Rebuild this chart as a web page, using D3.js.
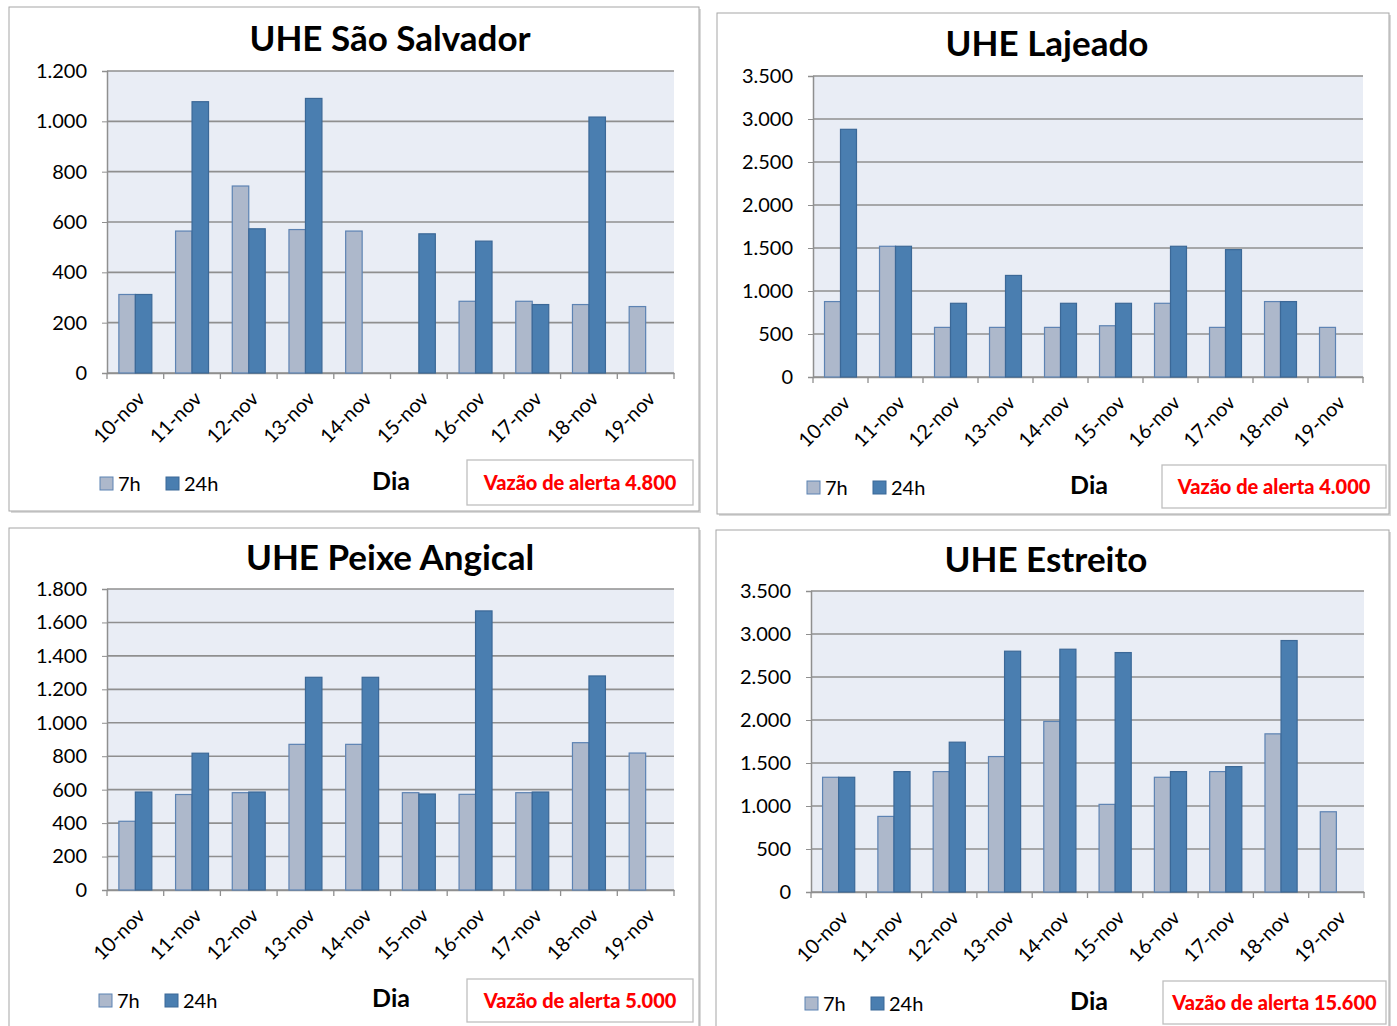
<!DOCTYPE html>
<html lang="pt">
<head>
<meta charset="UTF-8">
<script src="https://d3js.org/d3.v7.min.js"></script>
<style>
  body { margin:0; background:#fff; }
  text { font-family: Lato, "Open Sans", sans-serif; }
</style>
<title>UHE vazões</title>
</head>
<body>
<script>
// categorias e séries
var dias = ["10-nov","11-nov","12-nov","13-nov","14-nov","15-nov","16-nov","17-nov","18-nov","19-nov"];
var series = ["7h","24h"];

var salvador7h  = [312, 564, 743, 570, 564, 0, 285, 285, 272, 264];
var salvador24h = [312, 1078, 573, 1091, 0, 553, 524, 272, 1017, 0];
var salvadorTicks = [0, 200, 400, 600, 800, 1000, 1200];

var lajeado7h  = [877, 1520, 577, 577, 577, 596, 857, 577, 877, 577];
var lajeado24h = [2880, 1520, 857, 1181, 857, 857, 1520, 1481, 877, 0];
var lajeadoTicks = [0, 500, 1000, 1500, 2000, 2500, 3000, 3500];

var peixe7h  = [411, 571, 582, 871, 871, 582, 572, 582, 881, 819];
var peixe24h = [586, 818, 586, 1272, 1272, 574, 1669, 586, 1280, 0];
var peixeTicks = [0, 200, 400, 600, 800, 1000, 1200, 1400, 1600, 1800];

var estreito7h  = [1334, 879, 1400, 1575, 1983, 1019, 1334, 1400, 1839, 933];
var estreito24h = [1334, 1400, 1742, 2800, 2823, 2784, 1400, 1458, 2924, 0];
var estreitoTicks = [0, 500, 1000, 1500, 2000, 2500, 3000, 3500];

var W = 1397, H = 1026;
var svg = d3.select("body").append("svg").attr("width", W).attr("height", H);

var ptBR = d3.formatLocale({decimal: ",", thousands: ".", grouping: [3], currency: ["R$", ""]});
var fmt = ptBR.format(",d");

var colors = {"7h": {fill: "#adb8cb", stroke: "#5d83b3"}, "24h": {fill: "#4a7eb0", stroke: "#3b6897"}};

function drawPanel(p) {
  var g = svg.append("g");
  // moldura
  g.append("rect")
    .attr("x", p.box[0] + 2).attr("y", p.box[1] + 2)
    .attr("width", p.box[2] - p.box[0]).attr("height", p.box[3] - p.box[1])
    .attr("fill", "#d9d9d9");
  g.append("rect")
    .attr("x", p.box[0]).attr("y", p.box[1])
    .attr("width", p.box[2] - p.box[0]).attr("height", p.box[3] - p.box[1])
    .attr("fill", "#fff").attr("stroke", "#a6a6a6").attr("stroke-width", 1);

  var x = d3.scaleBand().domain(dias).range([p.plot[0], p.plot[2]]).paddingInner(0).paddingOuter(0);
  var xs = d3.scaleBand().domain(series).range([0, x.bandwidth()]).paddingInner(0).paddingOuter(0.72);
  var y = d3.scaleLinear().domain([0, d3.max(p.ticks)]).range([p.plot[3], p.plot[1]]);

  g.append("rect")
    .attr("x", p.plot[0]).attr("y", p.plot[1])
    .attr("width", p.plot[2] - p.plot[0]).attr("height", p.plot[3] - p.plot[1])
    .attr("fill", "#e9edf5");

  // grade
  g.append("g").selectAll("line").data(p.ticks).enter().append("line")
    .attr("x1", p.plot[0]).attr("x2", p.plot[2])
    .attr("y1", function(d) { return y(d); }).attr("y2", function(d) { return y(d); })
    .attr("stroke", "#8f8f8f").attr("stroke-width", 1.6);

  var yAxis = g.append("g")
    .attr("transform", "translate(" + p.plot[0] + ",0)")
    .call(d3.axisLeft(y).tickValues(p.ticks).tickFormat(fmt).tickSize(5).tickPadding(15));
  yAxis.select(".domain").attr("stroke", "#8f8f8f").attr("stroke-width", 1.5);
  yAxis.selectAll(".tick line").attr("stroke", "#8f8f8f");
  yAxis.selectAll("text").attr("font-size", 20).attr("fill", "#000")
    .style("font-family", "Lato, sans-serif");

  var xAxis = g.append("g")
    .attr("transform", "translate(0," + p.plot[3] + ")")
    .call(d3.axisBottom(x).tickSizeOuter(0).tickSize(0).tickFormat(""));
  xAxis.select(".domain").attr("stroke", "#8f8f8f").attr("stroke-width", 1.5);
  xAxis.selectAll(".tick").remove();
  // marcas entre categorias
  var bounds = dias.map(function(d) { return x(d); }).concat([p.plot[2]]);
  g.append("g").selectAll("line").data(bounds).enter().append("line")
    .attr("x1", function(d) { return d; }).attr("x2", function(d) { return d; })
    .attr("y1", p.plot[3]).attr("y2", p.plot[3] + 6)
    .attr("stroke", "#8f8f8f").attr("stroke-width", 1.3);

  g.append("g").selectAll("text").data(dias).enter().append("text")
    .attr("transform", function(d) {
      return "translate(" + (x(d) + x.bandwidth() / 2 + 6) + "," + (p.plot[3] + 22) + ") rotate(-45)";
    })
    .attr("text-anchor", "end").attr("dy", "0.35em")
    .attr("font-size", 20).attr("fill", "#000")
    .text(function(d) { return d; });

  // barras
  var rows = dias.map(function(d, i) { return {dia: d, "7h": p.v7[i], "24h": p.v24[i]}; });
  var grp = g.append("g").selectAll("g").data(rows).enter().append("g")
    .attr("transform", function(d) { return "translate(" + x(d.dia) + ",0)"; });
  grp.selectAll("rect")
    .data(function(d) { return series.map(function(s) { return {s: s, v: d[s]}; }).filter(function(e) { return e.v > 0; }); })
    .enter().append("rect")
    .attr("x", function(d) { return xs(d.s); })
    .attr("y", function(d) { return y(d.v); })
    .attr("width", xs.bandwidth())
    .attr("height", function(d) { return y(0) - y(d.v); })
    .attr("fill", function(d) { return colors[d.s].fill; })
    .attr("stroke", function(d) { return colors[d.s].stroke; })
    .attr("stroke-width", 1.2);

  // título
  g.append("text").attr("x", p.titleX).attr("y", p.titleY)
    .attr("text-anchor", "middle").attr("font-size", 35).attr("font-weight", "bold")
    .text(p.title);

  // legenda
  var lg = g.append("g").attr("transform", "translate(" + p.legend[0] + "," + p.legend[1] + ")");
  var lgItems = lg.selectAll("g").data(series).enter().append("g")
    .attr("transform", function(d, i) { return "translate(" + (i * 66) + ",0)"; });
  lgItems.append("rect").attr("x", 0).attr("y", -13).attr("width", 13).attr("height", 13)
    .attr("fill", function(d) { return colors[d].fill; })
    .attr("stroke", function(d) { return colors[d].stroke; });
  lgItems.append("text").attr("x", 18).attr("y", 1).attr("font-size", 20)
    .text(function(d) { return d; });

  g.append("text").attr("x", p.diaX).attr("y", p.diaY)
    .attr("text-anchor", "middle").attr("font-size", 25).attr("font-weight", "bold")
    .text("Dia");

  // caixa de alerta
  g.append("rect")
    .attr("x", p.alert[0]).attr("y", p.alert[1])
    .attr("width", p.alert[2] - p.alert[0]).attr("height", p.alert[3] - p.alert[1])
    .attr("fill", "#fff").attr("stroke", "#bfbfbf").attr("stroke-width", 1.3);
  g.append("text")
    .attr("x", (p.alert[0] + p.alert[2]) / 2).attr("y", (p.alert[1] + p.alert[3]) / 2 + 7)
    .attr("text-anchor", "middle").attr("font-size", 20).attr("font-weight", 900)
    .attr("fill", "#ff0000")
    .text(p.alertText);
}

drawPanel({title: "UHE São Salvador", v7: salvador7h, v24: salvador24h, ticks: salvadorTicks,
  box: [9, 7, 699, 511], plot: [107, 71, 674, 373], titleX: 390, titleY: 51,
  legend: [100, 490], diaX: 391, diaY: 490, alert: [467, 460, 693, 505], alertText: "Vazão de alerta 4.800"});

drawPanel({title: "UHE Lajeado", v7: lajeado7h, v24: lajeado24h, ticks: lajeadoTicks,
  box: [717, 13, 1389, 514], plot: [813, 76, 1363, 377], titleX: 1047, titleY: 56,
  legend: [807, 494], diaX: 1089, diaY: 494, alert: [1162, 465, 1386, 508], alertText: "Vazão de alerta 4.000"});

drawPanel({title: "UHE Peixe Angical", v7: peixe7h, v24: peixe24h, ticks: peixeTicks,
  box: [9, 528, 699, 1030], plot: [107, 589, 674, 890], titleX: 390, titleY: 570,
  legend: [99, 1007], diaX: 391, diaY: 1007, alert: [467, 979, 693, 1022], alertText: "Vazão de alerta 5.000"});

drawPanel({title: "UHE Estreito", v7: estreito7h, v24: estreito24h, ticks: estreitoTicks,
  box: [716, 530, 1389, 1030], plot: [811, 591, 1364, 892], titleX: 1046, titleY: 572,
  legend: [805, 1010], diaX: 1089, diaY: 1010, alert: [1163, 981, 1386, 1024], alertText: "Vazão de alerta 15.600"});
</script>
</body>
</html>
